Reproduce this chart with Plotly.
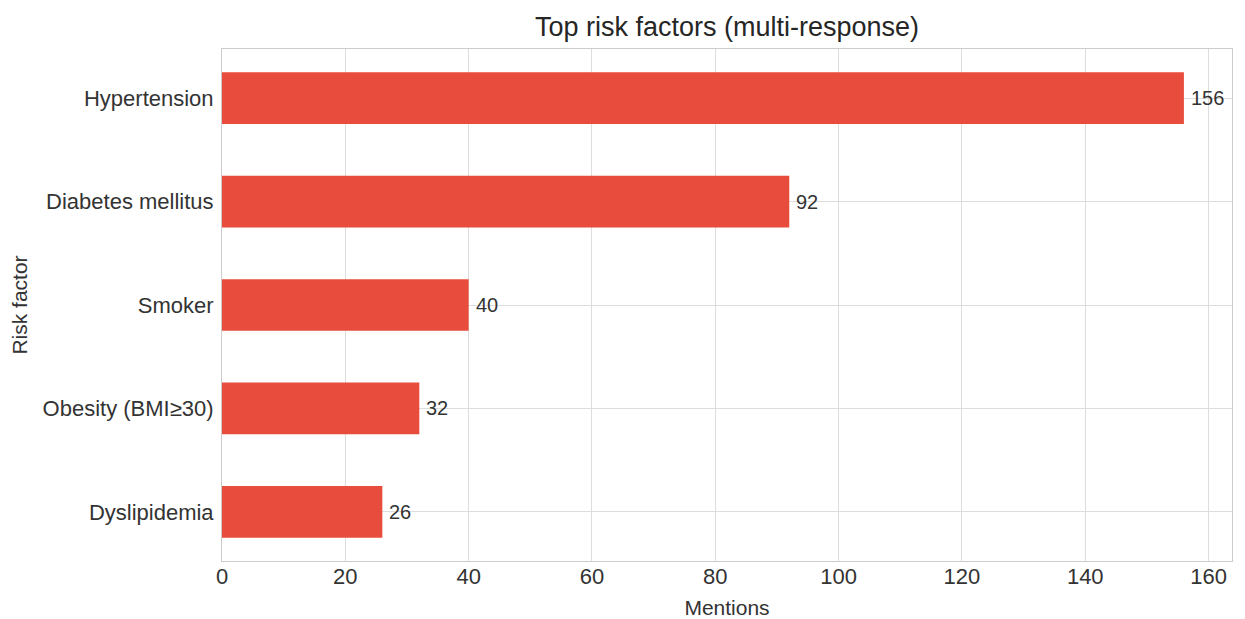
import plotly.graph_objects as go

categories = ["Hypertension", "Diabetes mellitus", "Smoker", "Obesity (BMI≥30)", "Dyslipidemia"]
mentions = [156, 92, 40, 32, 26]
x_ticks = [0, 20, 40, 60, 80, 100, 120, 140, 160]

FONT = "Liberation Sans, Arial, sans-serif"
TXT = "#333333"

fig = go.Figure(
    go.Bar(
        x=mentions,
        y=categories,
        orientation="h",
        width=0.5,
        marker=dict(color="#e74c3c", line=dict(width=0)),
        hoverinfo="x+y",
    )
)

for cat, val in zip(categories, mentions):
    fig.add_annotation(
        x=val, y=cat, xref="x", yref="y",
        text=str(val), showarrow=False,
        xanchor="left", yanchor="middle", xshift=5,
        font=dict(family=FONT, size=20, color=TXT),
    )

fig.update_layout(
    width=1245,
    height=619,
    margin=dict(l=214, r=21, t=41, b=66, autoexpand=False),
    paper_bgcolor="white",
    plot_bgcolor="white",
    showlegend=False,
    font=dict(family=FONT, color=TXT),
    title=dict(
        text="Top risk factors (multi-response)",
        x=0.5,
        xanchor="center",
        xref="paper",
        yref="container",
        y=1 - 19 / 619,
        yanchor="middle",
        font=dict(family=FONT, size=27, color="#262626"),
    ),
    xaxis=dict(
        range=[0, 163.8],
        tickvals=x_ticks,
        ticktext=[str(t) for t in x_ticks],
        showgrid=True,
        gridcolor="#dddddd",
        gridwidth=1,
        zeroline=False,
        showline=True,
        linecolor="#cccccc",
        linewidth=1,
        mirror=True,
        ticks="",
        automargin=False,
        ticklabelstandoff=-4,
        tickfont=dict(family=FONT, size=22, color=TXT),
        title=dict(text="Mentions", font=dict(family=FONT, size=21, color=TXT), standoff=11),
    ),
    yaxis=dict(
        categoryorder="array",
        categoryarray=categories,
        range=[4.475, -0.475],
        showgrid=True,
        gridcolor="#dddddd",
        gridwidth=1,
        zeroline=False,
        showline=True,
        linecolor="#cccccc",
        linewidth=1,
        mirror=True,
        ticks="",
        automargin=False,
        ticklabelstandoff=3,
        tickfont=dict(family=FONT, size=22, color=TXT),
        title=dict(text="Risk factor", font=dict(family=FONT, size=21, color=TXT), standoff=12),
    ),
)

fig.write_html("out.html")
